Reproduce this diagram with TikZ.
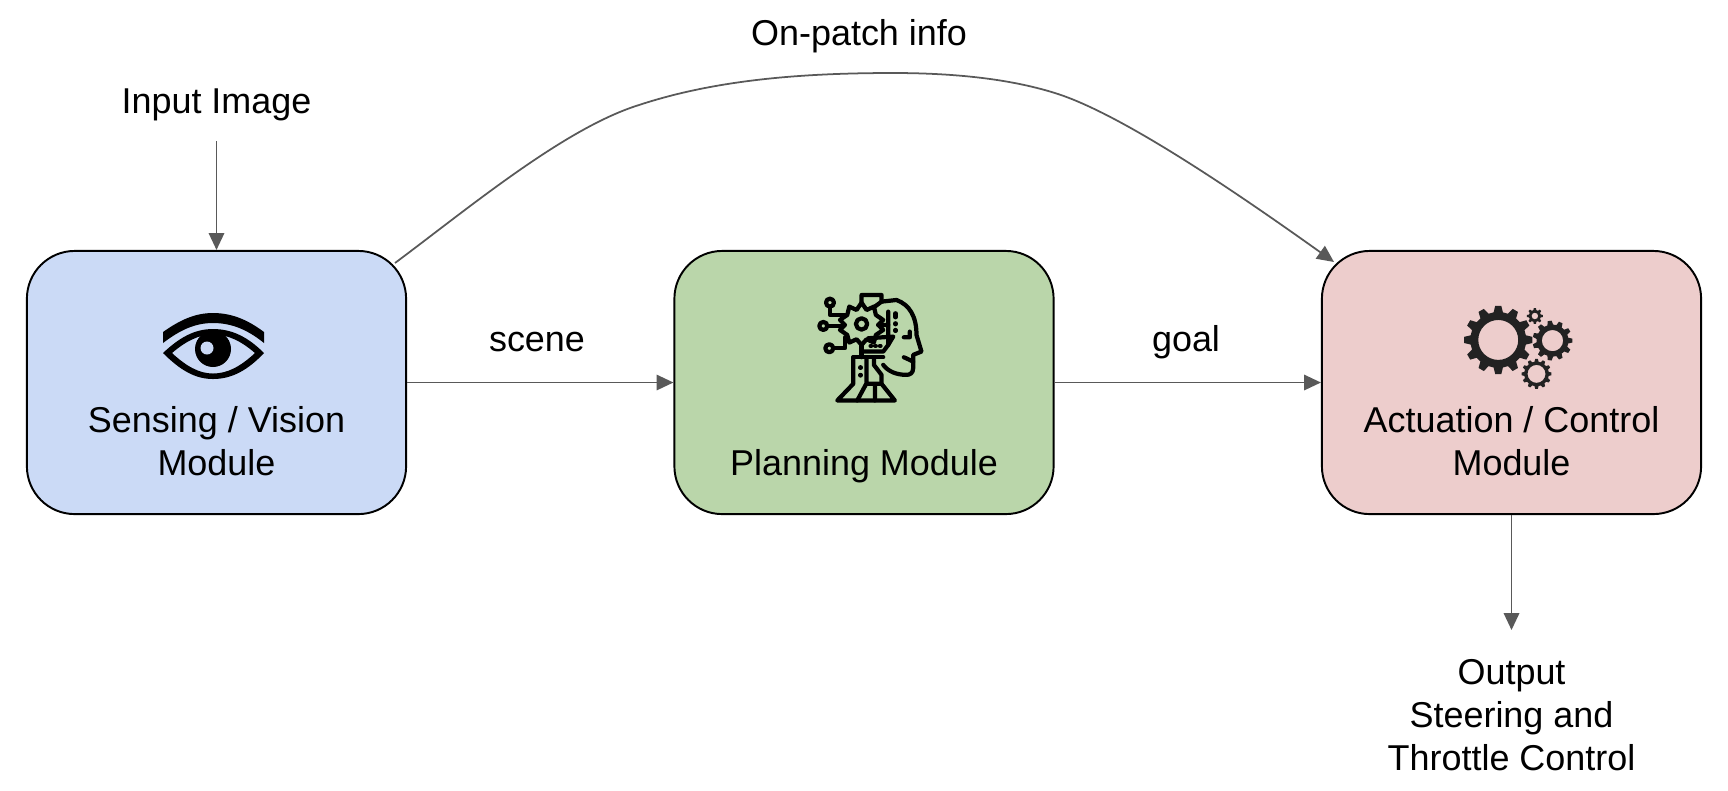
\documentclass[tikz,border=0pt]{standalone}
\usepackage{fontspec}
\setmainfont{Liberation Sans}
\usetikzlibrary{arrows.meta}
\definecolor{sensingblue}{HTML}{CBDAF6}
\definecolor{planninggreen}{HTML}{BAD6AA}
\definecolor{controlpink}{HTML}{EDCDCC}
\definecolor{linkgrey}{HTML}{595959}
\definecolor{geargrey}{HTML}{222222}
\newcommand{\gearicon}[6]{%
  \fill[geargrey,even odd rule,shift={(#1,#2)}] ({-0.32*360/#6}:#4)
    \foreach \k in {1,...,#6} {
      -- ({(\k-1)*360/#6-0.32*360/#6}:#4)
      -- ({(\k-1)*360/#6-0.17*360/#6}:#3)
      -- ({(\k-1)*360/#6+0.17*360/#6}:#3)
      -- ({(\k-1)*360/#6+0.32*360/#6}:#4)
    } -- cycle (0,0) circle[radius=#5];
}
\begin{document}
\begin{tikzpicture}[x=0.01cm,y=-0.01cm,>={Triangle[length=4.8pt,width=4.4pt]},
  module/.style={draw=black,line width=0.55pt,rounded corners=13.6pt,minimum width=3.79cm,minimum height=2.63cm},
  link/.style={draw=linkgrey,line width=0.5pt,->,color=linkgrey},
  caption/.style={align=center,font=\fontsize{10.22}{12.25}\selectfont,inner sep=0pt},
  iconline/.style={line width=1.2pt,line join=round,line cap=round}]
  \useasboundingbox (0,0) rectangle (1728,790);

  \node[module,fill=sensingblue] (sensing) at (216.5,382.5) {};
  \node[module,fill=planninggreen] (planning) at (864,382.5) {};
  \node[module,fill=controlpink] (control) at (1511.5,382.5) {};

  \node[caption] (sensingtext) at (216.5,441.5) {Sensing / Vision\\Module};
  \node[caption] (planningtext) at (864,466.5) {Planning Module};
  \node[caption] (controltext) at (1511.5,441.5) {Actuation / Control\\Module};

  \node[caption] (inputimage) at (216.5,105) {Input Image};
  \node[caption] (onpatch) at (859,36) {On-patch info};
  \node[caption] (scene) at (537,342) {scene};
  \node[caption] (goal) at (1186,342) {goal};
  \node[caption] (outputtext) at (1511.5,715) {Output\\Steering and\\Throttle Control};

  \coordinate (inputend) at (216.5,141);
  \coordinate (outputend) at (1511.5,630);
  \coordinate (patchout) at (395,263);
  \coordinate (patchin) at (1334,262);

  \draw[link] (inputend) -- (sensing.north);
  \draw[link] (sensing.east) -- (planning.west);
  \draw[link] (planning.east) -- (control.west);
  \draw[link] (control.south) -- (outputend);
  \draw[link] (patchout) .. controls (470,207) and (565,128) .. (639,105)
    .. controls (715,80) and (800,73) .. (893,73)
    .. controls (960,73) and (1015,80) .. (1058,94)
    .. controls (1125,116) and (1240,195) .. (patchin);

  % eye
  \fill[black] (163,332) .. controls (180,320) and (195,313) .. (213,313)
    .. controls (232,313) and (248,320) .. (264,332) -- (264,343)
    .. controls (248,330) and (232,323) .. (213,323)
    .. controls (195,323) and (180,330) .. (163,343) -- cycle;
  \fill[black,even odd rule] (163,353) .. controls (180,337) and (195,329) .. (213,329)
    .. controls (232,329) and (248,337) .. (264,353)
    .. controls (248,370) and (232,379) .. (213,379)
    .. controls (195,379) and (180,370) .. (163,353) -- cycle
    (172,353) .. controls (186,341) and (199,334.5) .. (213,334.5)
    .. controls (228,334.5) and (241,341) .. (255,353)
    .. controls (241,366) and (228,373.5) .. (213,373.5)
    .. controls (199,373.5) and (186,366) .. (172,353) -- cycle;
  \fill[black] (213,349) circle[radius=18];
  \fill[black] (197,340) rectangle (229,349);
  \fill[sensingblue] (207,348) circle[radius=6.5];

  % head
  \begin{scope}[shift={(800,280)},x=0.00333cm,y=-0.00333cm]
    \draw[iconline] (90,68) circle[radius=12] (70,138) circle[radius=12] (88,205) circle[radius=12];
    \draw[iconline] (90,80) -- (90,105) -- (135,105) (82,138) -- (130,138) (100,205) -- (135,205) -- (135,172);
    \draw[iconline] (185,70) -- (185,45) -- (245,45) -- (245,65) -- (290,60)
      .. controls (330,75) and (350,110) .. (350,165) -- (365,215) -- (340,225)
      -- (340,265) .. controls (340,280) and (330,285) .. (320,285)
      .. controls (290,285) and (265,275) .. (250,255);
    \draw[iconline] (245,65) -- (222,82) (265,95) -- (265,195) -- (250,215) -- (185,215);
    \draw[iconline] (185,132) circle[radius=17];
    \draw[iconline] (185,68) -- (200,90) -- (222,80) -- (228,105) -- (250,120) -- (235,135)
      -- (250,150) -- (228,165) -- (222,188) -- (200,178) -- (185,195) -- (170,178)
      -- (148,188) -- (142,165) -- (120,150) -- (135,135) -- (120,120) -- (142,105)
      -- (148,80) -- (170,90) -- cycle;
    \draw[iconline] (235,135) -- (265,135) (205,175) -- (280,170) -- (265,195);
    \draw[iconline] (185,195) -- (185,232) (160,232) -- (250,232);
    \draw[iconline] (160,232) -- (160,312) -- (112,362) -- (285,362) -- (245,312) -- (245,285)
      -- (222,255) -- (222,232);
    \draw[iconline] (200,232) -- (200,310) -- (172,362) (245,312) -- (200,312) (225,312) -- (225,362);
    \draw[iconline] (212,198) -- (214,198) (226,198) -- (228,198) (240,198) -- (242,198);
    \draw[iconline] (182,262) -- (182,264) (182,285) -- (182,287);
    \draw[iconline] (287,100) -- (287,112) (287,130) -- (287,133) (287,150) -- (287,153);
    \draw[iconline] (312,172) -- (330,172) -- (330,155) (312,232) -- (340,245);
  \end{scope}

  % gears
  \begin{scope}[shift={(1440,290)},x=0.00333cm,y=-0.00333cm]
    \gearicon{175}{150}{103}{84}{60}{12}
    \gearicon{338}{152}{60}{48}{32}{11}
    \gearicon{285}{78}{24}{18}{10}{8}
    \gearicon{290}{252}{45}{37}{27}{12}
  \end{scope}
\end{tikzpicture}
\end{document}
